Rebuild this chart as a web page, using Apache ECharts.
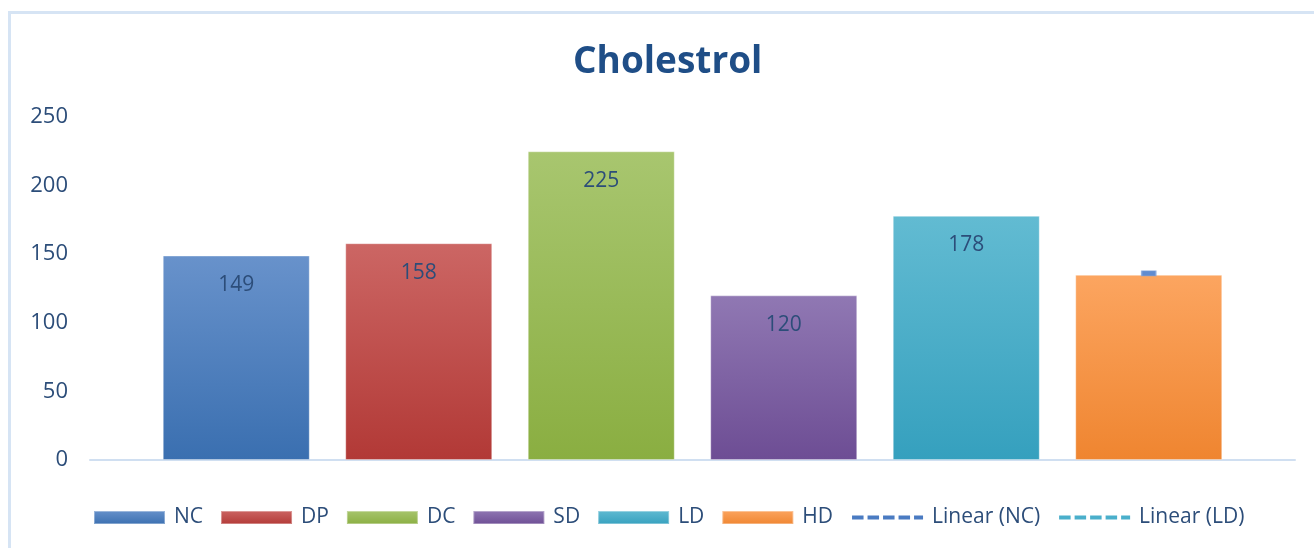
<!DOCTYPE html>
<html>
<head>
<meta charset="utf-8">
<script src="https://cdn.jsdelivr.net/npm/echarts@6/dist/echarts.min.js"></script>
<style>
  html, body { margin: 0; padding: 0; overflow: hidden; background: #fff; }
  #frame { position: absolute; left: 8px; top: 11px; width: 1330px; height: 560px;
           border: 3px solid #d6e4f4; box-sizing: border-box; }
  #chart { position: absolute; left: 0; top: 0; width: 1314px; height: 548px; }
</style>
</head>
<body>
<div id="frame"></div>
<div id="chart"></div>
<script>
// Cholesterol level per group
const categories = ['NC', 'DP', 'DC', 'SD', 'LD', 'HD'];
const values = [149, 158, 225, 120, 178, 135];
const showValue = [true, true, true, true, true, false];
// Linear (NC) trendline segment, visible at the HD position
const trendNC = ['-', '-', '-', '-', '-', 136];
const trendNames = ['Linear (NC)', 'Linear (LD)'];
const yMin = 0, yMax = 250, yStep = 50;

const gradients = [
  ['#6892cb', '#3a6fb0'],
  ['#cc6664', '#b23936'],
  ['#a8c66f', '#8aae41'],
  ['#9078b3', '#6d4d94'],
  ['#62bbd2', '#35a0be'],
  ['#fca560', '#ef8530']
];
const trendColors = ['#4a7bc2', '#4aafcb'];

const FONT = '"Open Sans", "Noto Sans", sans-serif';
const TEXT = '#2c4d79';

const chart = echarts.init(document.getElementById('chart'));

const barSeries = categories.map((name, i) => ({
  name: name,
  type: 'bar',
  xAxisIndex: 1,
  yAxisIndex: 1,
  barWidth: 147,
  barGap: '-100%',
  data: categories.map((c, j) => (j === i ? values[i] : '-')),
  itemStyle: {
    color: {
      type: 'linear', x: 0, y: 0, x2: 0, y2: 1,
      colorStops: [
        { offset: 0, color: gradients[i][0] },
        { offset: 1, color: gradients[i][1] }
      ]
    },
    borderColor: 'rgba(255,255,255,0.35)',
    borderWidth: 1
  },
  label: {
    show: showValue[i],
    position: 'insideTop',
    distance: 19,
    color: TEXT,
    fontSize: 21,
    fontFamily: FONT
  }
}));

const trendSeries = trendNames.map((name, i) => ({
  name: name,
  type: 'line',
  xAxisIndex: 1,
  yAxisIndex: 1,
  symbol: 'none',
  data: [],
  itemStyle: { color: trendColors[i] },
  lineStyle: { color: trendColors[i], width: 4, type: [11.5, 4] }
}));

const trendMark = {
  type: 'scatter',
  xAxisIndex: 1,
  yAxisIndex: 1,
  symbol: 'rect',
  symbolSize: [14, 5],
  z: 5,
  itemStyle: { color: '#3a6fc4', borderColor: '#7fa3dc', borderWidth: 1 },
  data: trendNC
};

const legendData = categories.map(n => ({ name: n, icon: 'rect' }))
  .concat(trendNames.map((n, i) => ({
    name: n,
    itemStyle: { opacity: 0 },
    lineStyle: { color: trendColors[i], width: 4, type: [11.5, 4] }
  })));

chart.setOption({
  animation: false,
  title: {
    text: 'Cholestrol',
    left: 568,
    top: 39,
    textStyle: { fontFamily: FONT, fontSize: 37, fontWeight: 'bold', color: '#1f4e87' }
  },
  legend: {
    data: legendData,
    left: 93,
    top: 507,
    padding: 0,
    itemWidth: 71,
    itemHeight: 13,
    itemGap: 17,
    textStyle: { fontFamily: FONT, fontSize: 21, color: TEXT, padding: [0, 0, 0, 4] }
  },
  grid: [
    { left: 90, right: 19, top: 117, bottom: 88 },
    { left: 145, right: 74, top: 117, bottom: 88 }
  ],
  xAxis: [
    {
      gridIndex: 0, type: 'category', data: [''],
      axisLine: { lineStyle: { color: '#d0dff1', width: 2 } },
      axisTick: { show: false }, axisLabel: { show: false }
    },
    {
      gridIndex: 1, type: 'category', data: categories,
      axisLine: { show: false }, axisTick: { show: false }, axisLabel: { show: false }
    }
  ],
  yAxis: [
    {
      gridIndex: 0, type: 'value', min: yMin, max: yMax, interval: yStep,
      axisLine: { show: false }, axisTick: { show: false }, splitLine: { show: false },
      axisLabel: { margin: 22, color: TEXT, fontSize: 22, fontFamily: FONT }
    },
    {
      gridIndex: 1, type: 'value', min: yMin, max: yMax, interval: yStep,
      axisLine: { show: false }, axisTick: { show: false }, splitLine: { show: false },
      axisLabel: { show: false }
    }
  ],
  series: barSeries.concat(trendSeries, [trendMark])
});
</script>
</body>
</html>
